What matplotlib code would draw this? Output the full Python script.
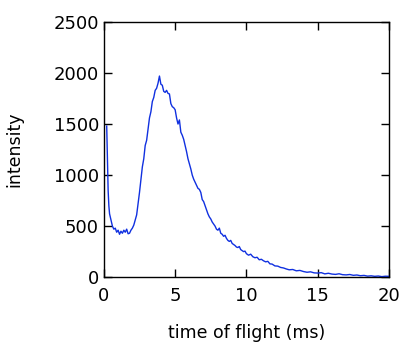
import matplotlib
matplotlib.use('Agg')
import matplotlib.pyplot as plt

tof = [0.2, 0.25, 0.3, 0.35, 0.4, 0.5, 0.6, 0.7, 0.8, 0.9, 1.0, 1.1, 1.2, 1.3, 1.4, 1.5, 1.6, 1.7, 1.8, 1.9,
       2.0, 2.1, 2.2, 2.3, 2.4, 2.5, 2.6, 2.7, 2.8, 2.9, 3.0, 3.1, 3.2, 3.3, 3.4, 3.5, 3.6, 3.7, 3.8, 3.9,
       4.0, 4.1, 4.2, 4.3, 4.4, 4.5, 4.6, 4.7, 4.8, 4.9, 5.0, 5.1, 5.2, 5.3, 5.4, 5.5, 5.6, 5.7, 5.8, 5.9,
       6.0, 6.1, 6.2, 6.3, 6.4, 6.5, 6.6, 6.7, 6.8, 6.9, 7.0, 7.1, 7.2, 7.3, 7.4, 7.5, 7.6, 7.7, 7.8, 7.9,
       8.0, 8.1, 8.2, 8.3, 8.4, 8.5, 8.6, 8.7, 8.8, 8.9, 9.0, 9.1, 9.2, 9.3, 9.4, 9.5, 9.6, 9.7, 9.8, 9.9,
       10.0, 10.15, 10.3, 10.45, 10.6, 10.75, 10.9, 11.05, 11.2, 11.35, 11.5, 11.65, 11.8, 12.0,
       12.2, 12.4, 12.6, 12.8, 13.0, 13.25, 13.5, 13.75, 14.0, 14.25, 14.5, 14.75, 15.0, 15.25, 15.5,
       15.75, 16.0, 16.25, 16.5, 16.75, 17.0, 17.25, 17.5, 17.75, 18.0, 18.25, 18.5, 18.75, 19.0,
       19.25, 19.5, 19.75, 20.0]
intensity = [1480, 1150, 850, 700, 620, 560, 500, 470, 480, 440, 460, 420, 450, 430, 460, 440, 470, 425, 430, 460,
             480, 510, 560, 610, 720, 830, 960, 1080, 1160, 1290, 1340, 1450, 1560, 1620, 1720, 1760, 1830, 1850, 1900, 1970,
             1890, 1880, 1820, 1810, 1830, 1800, 1795, 1700, 1670, 1660, 1640, 1560, 1500, 1540, 1420, 1390, 1350, 1290, 1230, 1160,
             1110, 1060, 1000, 960, 930, 900, 870, 860, 830, 760, 740, 700, 660, 620, 590, 570, 540, 520, 500, 470,
             460, 480, 430, 420, 400, 410, 380, 360, 350, 360, 330, 320, 310, 295, 290, 300, 270, 260, 250, 255,
             230, 215, 225, 200, 190, 195, 170, 175, 160, 150, 155, 130, 128, 110,
             108, 95, 90, 80, 72, 75, 62, 66, 55, 48, 52, 42, 40, 44, 32,
             38, 30, 27, 33, 24, 22, 26, 18, 21, 14, 17, 10, 13, 8,
             11, 5, 9, 8]

plt.rcParams['font.family'] = 'DejaVu Sans'
fig = plt.figure(figsize=(4.01, 3.43), dpi=100)
ax = fig.add_axes([0.259, 0.192, 0.711, 0.744])
ax.plot(tof, intensity, c='#1030e0', lw=1)

ax.set_xlim(0, 20)
ax.set_ylim(0, 2500)
ax.set_xticks([0, 5, 10, 15, 20])
ax.set_yticks([0, 500, 1000, 1500, 2000, 2500])
ax.tick_params(direction='in', length=6, width=1, labelsize=13, top=True, right=True)
ax.tick_params(axis='x', pad=7)
ax.set_xlabel('time of flight (ms)', fontsize=12.5, labelpad=14)
ax.set_ylabel('intensity', fontsize=12.5, labelpad=22)
for s in ax.spines.values():
    s.set_linewidth(1)

plt.savefig('out.png', dpi=100)
